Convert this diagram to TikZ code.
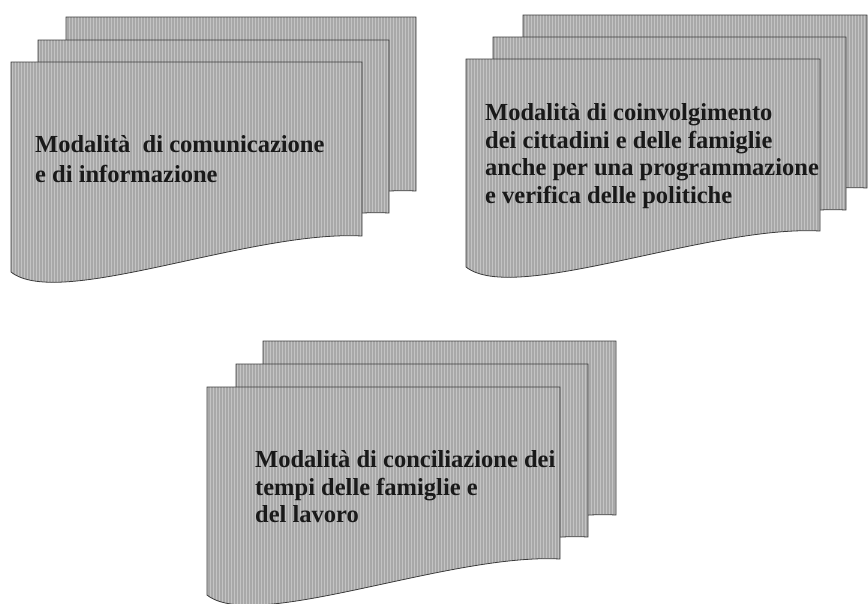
\documentclass[tikz,border=0pt]{standalone}
\usepackage{fontspec}
\setmainfont{Liberation Serif}
\usetikzlibrary{patterns}
\definecolor{pagegray}{RGB}{168,168,168}
\definecolor{stripe}{RGB}{196,196,196}
\definecolor{edge}{RGB}{60,60,60}
\tikzset{
  pagebox/.style={draw=edge, line width=0.8pt, preaction={fill=pagegray},
    pattern=vertical lines, pattern color=stripe},
  label/.style={anchor=base west, inner sep=0pt, text=black!90,
    font=\bfseries\fontsize{24.5}{28}\selectfont}
}
% #1 x, #2 y (top), #3 width, #4 height to left-bottom corner
\newcommand\docpage[4]{%
  \path[pagebox] (#1,#2) -- ({#1+#3},#2) -- ({#1+#3},{#2+#4-36})
    .. controls ({#1+#3-112},{#2+#4-42}) and ({#1+48},{#2+#4+38}) .. (#1,{#2+#4}) -- cycle;}
\begin{document}
\begin{tikzpicture}[x=1pt,y=-1pt]
\useasboundingbox (0,0) rectangle (868,603);
% group 1
\docpage{66}{17}{350}{210}
\docpage{38}{40}{351}{209}
\docpage{11}{62}{351}{210}
\node[label] (a1) at (35,152) {Modalità\ \ di comunicazione};
\node[label] (a2) at (35,182) {e di informazione};
% group 2
\docpage{523}{15}{344}{209}
\docpage{493}{37}{353}{209}
\docpage{466}{59}{354}{208}
\node[label] (b1) at (485,120) {Modalità di coinvolgimento};
\node[label] (b2) at (485,148) {dei cittadini e delle famiglie};
\node[label] (b3) at (485,175) {anche per una programmazione};
\node[label] (b4) at (485,203) {e verifica delle politiche};
% group 3
\docpage{263}{341}{353}{210}
\docpage{236}{364}{352}{209}
\docpage{207}{387}{353}{208}
\node[label] (c1) at (255,467) {Modalità di conciliazione dei};
\node[label] (c2) at (255,495) {tempi delle famiglie e};
\node[label] (c3) at (255,522) {del lavoro};
\end{tikzpicture}
\end{document}
